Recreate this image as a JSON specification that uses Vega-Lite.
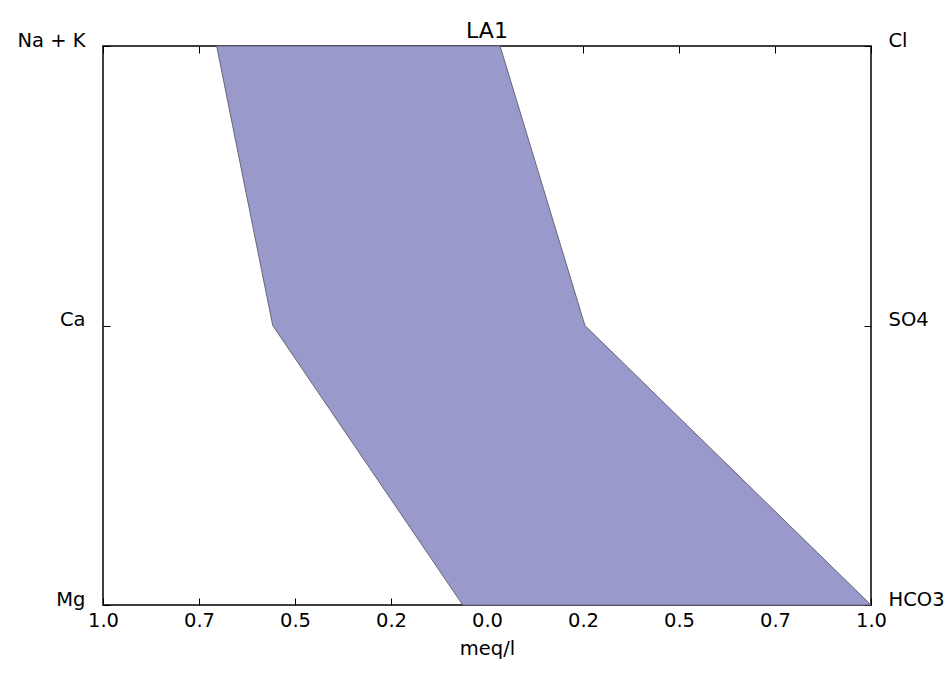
{
  "$schema": "https://vega.github.io/schema/vega-lite/v6.json",
  "width": 768,
  "height": 559,
  "autosize": {"type": "none"},
  "padding": {"left": 103, "top": 46, "right": 76, "bottom": 70},
  "background": "white",
  "title": {"text": "LA1", "fontSize": 22, "font": "DejaVu Sans", "fontWeight": "normal", "color": "black", "offset": -13},
  "config": {
    "view": {"stroke": "black", "strokeWidth": 1.5},
    "font": "DejaVu Sans",
    "axis": {
      "domain": false, "grid": false, "tickColor": "black", "tickWidth": 1,
      "labelFont": "DejaVu Sans", "labelFontSize": 19.5, "labelColor": "black",
      "titleFont": "DejaVu Sans", "titleFontSize": 19.5, "titleFontWeight": "normal", "titleColor": "black",
      "labelFlush": false, "labelOverlap": false, "labelBound": false
    }
  },
  "data": {
    "values": [
      {"level": 2, "cation": "Na + K", "anion": "Cl", "left": -0.704, "right": 0.034},
      {"level": 1, "cation": "Ca", "anion": "SO4", "left": -0.558, "right": 0.255},
      {"level": 0, "cation": "Mg", "anion": "HCO3", "left": -0.063, "right": 1.0}
    ]
  },
  "resolve": {"axis": {"x": "independent", "y": "independent"}},
  "layer": [
    {
      "mark": {"type": "area", "orient": "horizontal", "fill": "#9999cc", "fillOpacity": 1, "stroke": "#666677", "strokeWidth": 1},
      "encoding": {
        "y": {"field": "level", "type": "quantitative", "scale": {"domain": [0, 2], "nice": false, "zero": false},
          "axis": {"orient": "left", "values": [0, 1, 2], "tickSize": -7, "labelPadding": 25, "labelBaseline": "alphabetic", "labelAlign": "right",
            "labelExpr": "datum.value == 2 ? 'Na + K' : datum.value == 1 ? 'Ca' : 'Mg'", "title": null}},
        "x": {"field": "left", "type": "quantitative", "scale": {"domain": [-1, 1], "nice": false, "zero": false},
          "axis": {"orient": "bottom", "values": [-1, -0.75, -0.5, -0.25, 0, 0.25, 0.5, 0.75, 1], "tickSize": -7, "labelPadding": 13,
            "labelExpr": "format(floor(abs(datum.value) * 10 + 1e-9) / 10, '.1f')", "title": "meq/l", "titlePadding": 10}},
        "x2": {"field": "right"}
      }
    },
    {
      "mark": {"type": "point", "opacity": 0},
      "encoding": {
        "y": {"field": "level", "type": "quantitative",
          "axis": {"orient": "right", "values": [0, 1, 2], "tickSize": -7, "labelPadding": 24, "labelBaseline": "alphabetic", "labelAlign": "left",
            "labelExpr": "datum.value == 2 ? 'Cl' : datum.value == 1 ? 'SO4' : 'HCO3'", "title": null}},
        "x": {"field": "right", "type": "quantitative",
          "axis": {"orient": "top", "values": [-1, -0.75, -0.5, -0.25, 0, 0.25, 0.5, 0.75, 1], "tickSize": -7, "labels": false, "title": null}}
      }
    }
  ]
}
